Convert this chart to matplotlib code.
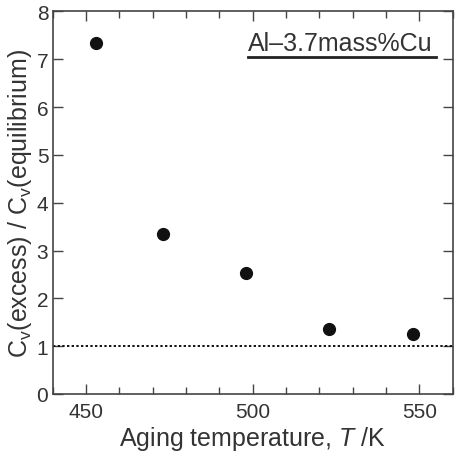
import matplotlib
matplotlib.use('Agg')
import matplotlib.pyplot as plt
from matplotlib.ticker import MultipleLocator

plt.rcParams['font.family'] = ['Liberation Sans', 'DejaVu Sans']
plt.rcParams['mathtext.fontset'] = 'custom'
plt.rcParams['mathtext.rm'] = 'Liberation Sans'
plt.rcParams['mathtext.it'] = 'Liberation Sans:italic'

# данные
temperature = [453, 473, 498, 523, 548]
cv_ratio = [7.35, 3.35, 2.53, 1.35, 1.25]
equilibrium_level = 1.0

txt = '#333333'

fig = plt.figure(figsize=(4.66, 4.56), dpi=100)
ax = fig.add_axes([0.1127, 0.1338, 0.8587, 0.8388])

ax.plot(temperature, cv_ratio, 'o', color='#111111', markersize=8.5, zorder=3)
ax.axhline(equilibrium_level, color='#111111', linestyle=(0, (1.2, 1.2)), linewidth=1.4)

ax.set_xlim(440, 560)
ax.set_ylim(0, 8)
ax.xaxis.set_major_locator(MultipleLocator(50))
ax.xaxis.set_minor_locator(MultipleLocator(10))
ax.yaxis.set_major_locator(MultipleLocator(1))

ax.tick_params(which='both', direction='in', top=True, right=True, colors='#444444',
               labelcolor=txt, labelsize=15, width=1)
ax.tick_params(which='major', length=7, pad=6)
ax.tick_params(which='minor', length=5)
ax.tick_params(axis='y', pad=3)

for s in ax.spines.values():
    s.set_color('#444444')
    s.set_linewidth(1.2)

ax.set_xlabel('Aging temperature, $\\mathit{T}$ /K', fontsize=18, color=txt, labelpad=2)
ax.set_ylabel('C$_\\mathregular{v}$(excess) / C$_\\mathregular{v}$(equilibrium)', fontsize=18,
              color=txt, labelpad=2)

# подпись сплава с подчёркиванием
ax.text(0.951, 0.9, 'Al\u20133.7mass%Cu', transform=ax.transAxes, ha='right', va='baseline',
        fontsize=18, color=txt)
ax.plot([0.489, 0.958], [0.881, 0.881], transform=ax.transAxes, color='#222222',
        linewidth=2, clip_on=False)

plt.savefig('out.png', dpi=100)
